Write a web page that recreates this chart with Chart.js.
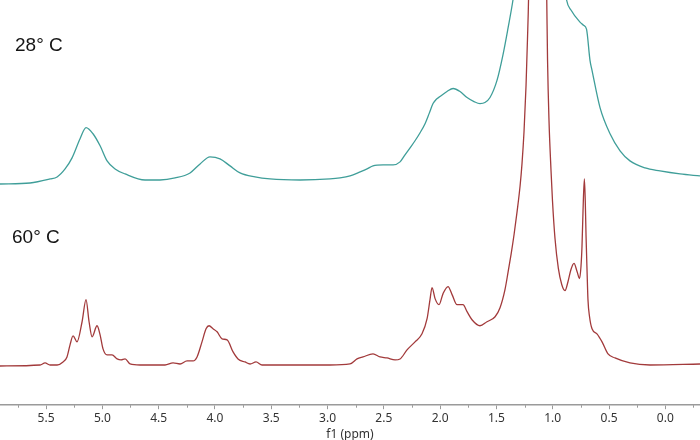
<!DOCTYPE html>
<html>
<head>
<meta charset="utf-8">
<script src="https://cdn.jsdelivr.net/npm/chart.js@4"></script>
<style>
  html, body { margin: 0; padding: 0; background: #ffffff; }
  #wrap { width: 700px; height: 440px; }
</style>
</head>
<body>
<div id="wrap"><canvas id="c" width="700" height="440"></canvas></div>
<script>
// ---- data ----
const TRACE_LABELS = ['28° C', '60° C'];

// 28 °C trace: chemical shift (ppm) and intensity (arbitrary units)
const PPM_28C = [5.909,5.642,5.464,5.402,5.331,5.269,5.198,5.145,5.083,5.020,4.958,4.887,4.798,4.621,4.488,4.354,4.221,4.132,4.044,3.955,3.866,3.777,3.644,3.511,3.244,2.978,2.889,2.800,2.711,2.649,2.596,2.507,2.418,2.356,2.312,2.267,2.223,2.178,2.134,2.098,2.063,2.036,2.001,1.939,1.885,1.823,1.761,1.699,1.646,1.602,1.557,1.495,1.441,1.397,1.353,1.308,1.246,1.113,0.980,0.877,0.838,0.758,0.727,0.700,0.669,0.651,0.580,0.491,0.402,0.314,0.180,0.047,-0.131,-0.308];
const INT_28C = [220,221,225,227,235,246,265,276,270,258,243,235,230,224,224,226,231,240,247,245,238,231,227,225,224,225,226,228,232,235,238,239,239,242,249,256,263,271,280,290,300,304,307,312,315,312,306,302,300,301,306,323,349,375,403,440,490,540,500,403,393,381,378,374,343,333,296,270,253,243,236,233,230,228];

// 60 °C trace
const PPM_60C = [5.909,5.553,5.509,5.464,5.402,5.349,5.314,5.287,5.260,5.225,5.180,5.145,5.118,5.091,5.047,5.020,4.994,4.958,4.914,4.869,4.834,4.798,4.754,4.665,4.443,4.372,4.310,4.248,4.194,4.159,4.115,4.079,4.052,4.017,3.981,3.937,3.892,3.839,3.795,3.733,3.688,3.635,3.582,3.244,2.978,2.800,2.738,2.685,2.596,2.534,2.472,2.400,2.356,2.294,2.223,2.161,2.116,2.090,2.072,2.045,2.010,1.974,1.930,1.894,1.850,1.797,1.761,1.717,1.646,1.584,1.512,1.468,1.424,1.397,1.370,1.343,1.316,1.290,1.273,1.255,1.237,1.224,1.215,1.202,1.175,1.135,1.095,1.068,1.053,1.046,1.033,1.015,1.002,0.980,0.950,0.920,0.891,0.864,0.838,0.811,0.784,0.762,0.749,0.740,0.731,0.719,0.711,0.704,0.695,0.687,0.673,0.651,0.607,0.562,0.509,0.447,0.314,0.136,-0.308];
const INT_60C = [39,40,42,40,40,43,48,60,69,63,83,105,83,68,79,70,56,50,50,46,45,46,41,40,40,42,41,44,44,48,63,76,79,76,73,66,65,53,46,43,41,43,40,40,40,41,46,48,51,48,47,45,46,55,63,71,86,105,117,106,100,111,118,110,100,100,93,85,79,83,88,97,115,132,150,170,193,218,240,272,318,365,403,520,750,1000,750,520,403,343,283,233,203,166,136,120,114,123,135,141,133,126,138,158,193,225,203,168,133,105,88,76,71,63,51,47,42,40,41];

// axis ticks
const MAJOR_TICKS = [0.0,0.5,1.0,1.5,2.0,2.5,3.0,3.5,4.0,4.5,5.0,5.5];
const MINOR_TICKS = [-0.25,0.25,0.75,1.25,1.75,2.25,2.75,3.25,3.75,4.25,4.75,5.25,5.75];

const X_MIN = -0.308, X_MAX = 5.909;
const Y_MIN = 0, Y_MAX = 403;

const toPts = (xs, ys) => xs.map((x, i) => ({ x: x, y: ys[i] }));

const minorTickPlugin = {
  id: 'minorTicks',
  afterDraw(chart) {
    const s = chart.scales.x, ctx = chart.ctx;
    ctx.save();
    ctx.strokeStyle = '#9a9a9a';
    ctx.lineWidth = 1;
    MINOR_TICKS.forEach(v => {
      const px = Math.round(s.getPixelForValue(v)) + 0.5;
      ctx.beginPath();
      ctx.moveTo(px, s.top);
      ctx.lineTo(px, s.top + 2.5);
      ctx.stroke();
    });
    ctx.restore();
  }
};

const traceLabelPlugin = {
  id: 'traceLabels',
  afterDraw(chart) {
    const ctx = chart.ctx;
    ctx.save();
    ctx.font = '19px "Liberation Sans", Arial, sans-serif';
    ctx.fillStyle = '#151515';
    ctx.textAlign = 'left';
    ctx.textBaseline = 'alphabetic';
    ctx.fillText(TRACE_LABELS[0], 15, 51);
    ctx.fillText(TRACE_LABELS[1], 12, 243);
    ctx.restore();
  }
};

new Chart(document.getElementById('c'), {
  type: 'line',
  data: {
    datasets: [
      {
        label: TRACE_LABELS[1],
        data: toPts(PPM_60C, INT_60C),
        borderColor: '#a23a3b',
        borderWidth: 1.3,
        pointRadius: 0,
        cubicInterpolationMode: 'monotone',
        fill: false
      },
      {
        label: TRACE_LABELS[0],
        data: toPts(PPM_28C, INT_28C),
        borderColor: '#3f9e99',
        borderWidth: 1.3,
        pointRadius: 0,
        cubicInterpolationMode: 'monotone',
        fill: false
      }
    ]
  },
  options: {
    responsive: false,
    animation: false,
    devicePixelRatio: 1,
    layout: { padding: { top: 0, left: 0, right: 0, bottom: -3 } },
    plugins: { legend: { display: false }, tooltip: { enabled: false } },
    scales: {
      x: {
        type: 'linear',
        reverse: true,
        min: X_MIN,
        max: X_MAX,
        afterBuildTicks: s => { s.ticks = MAJOR_TICKS.map(v => ({ value: v })); },
        ticks: {
          callback: v => Number(v).toFixed(1),
          font: { family: 'Noto Sans', size: 12 },
          color: '#333333',
          padding: 2,
          maxRotation: 0,
          autoSkip: false
        },
        grid: { drawOnChartArea: false, drawTicks: true, tickLength: 4, color: '#9a9a9a', tickWidth: 1 },
        border: { display: true, color: '#9a9a9a', width: 1.5 },
        title: {
          display: true,
          text: 'f1 (ppm)',
          font: { family: 'Noto Sans', size: 12 },
          color: '#333333',
          padding: { top: 0, bottom: 1 }
        }
      },
      y: {
        display: false,
        min: Y_MIN,
        max: Y_MAX
      }
    }
  },
  plugins: [minorTickPlugin, traceLabelPlugin]
});
</script>
</body>
</html>
